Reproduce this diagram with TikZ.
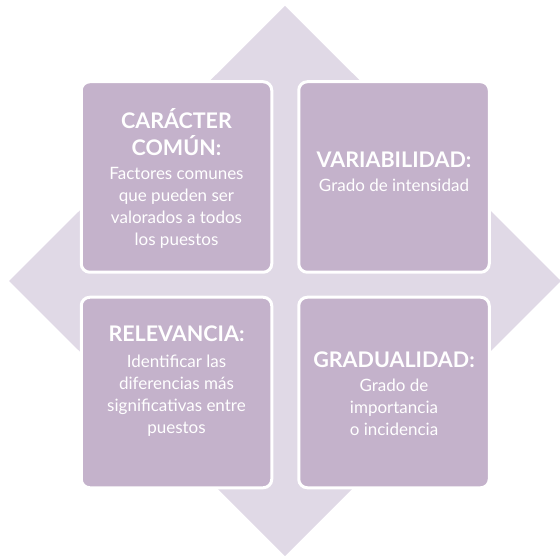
\documentclass[tikz,border=0pt]{standalone}
\usepackage{fontspec}
\setmainfont{Lato}
\usetikzlibrary{positioning}

\definecolor{rombo}{RGB}{224,217,230}
\definecolor{caja}{RGB}{196,178,203}
\newcommand{\titulo}{\fontsize{21.5}{22}\selectfont\bfseries}
\newcommand{\cuerpo}{\fontsize{17}{22}\selectfont\mdseries}

\tikzset{
  cuadro/.style={draw=white, fill=caja, line width=3pt, rounded corners=8.5pt,
    minimum width=190.5pt, minimum height=190.5pt, inner sep=0pt},
  texto/.style={text=white, align=center, inner sep=0pt, font=\cuerpo},
}

\begin{document}
\begin{tikzpicture}[x=1pt,y=-1pt]
    \useasboundingbox (0,0) rectangle (560,556);
    \fill[rombo] (285,6) -- (561,281) -- (285,556) -- (9,281) -- cycle;

    \node[cuadro] (caracter) at (176.5,177) {};
    \node[cuadro, right=24pt of caracter] (variabilidad) {};
    \node[cuadro, below=22pt of caracter] (relevancia) {};
    \node[cuadro, below=22pt of variabilidad] (gradualidad) {};

    \node[texto, yshift=-1pt] (t-caracter) at (caracter)
      {\titulo CARÁCTER\\[5pt]\titulo COMÚN:\\[2pt]Factores comunes\\que pueden ser\\valorados a todos\\los puestos};
    \node[texto, yshift=5pt] (t-variabilidad) at (variabilidad)
      {\titulo VARIABILIDAD:\\[2pt]Grado de intensidad};
    \node[texto, yshift=11pt] (t-relevancia) at (relevancia)
      {\titulo RELEVANCIA:\\[4pt]Identificar las\\diferencias más\\significativas entre\\puestos};
    \node[texto, yshift=-1pt] (t-gradualidad) at (gradualidad)
      {\titulo GRADUALIDAD:\\[2pt]Grado de\\importancia\\o incidencia};
\end{tikzpicture}
\end{document}
